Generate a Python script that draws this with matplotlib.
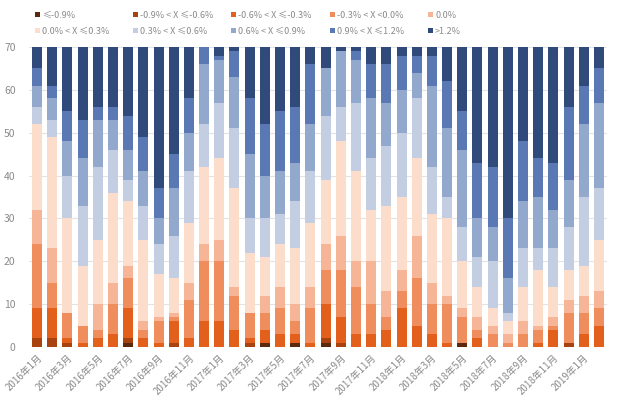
import matplotlib
matplotlib.use("Agg")
import matplotlib.pyplot as plt
from matplotlib.patches import Rectangle
import numpy as np

plt.rcParams['font.family'] = ['Noto Sans CJK SC', 'DejaVu Sans']

months = [f"{y}年{m}月" for y in (2016, 2017, 2018) for m in range(1, 13)] + ["2019年1月", "2019年2月"]

categories = ["≤-0.9%", "-0.9% < X ≤-0.6%", "-0.6% < X ≤-0.3%", "-0.3% < X <0.0%", "0.0%",
              "0.0% < X ≤0.3%", "0.3% < X ≤0.6%", "0.6% < X ≤0.9%", "0.9% < X ≤1.2%", ">1.2%"]

le_m09 = [0,0,0,0,0,0,1,0,0,0,0,0,0,0,0,1,0,1,0,1,0,0,0,0,0,0,0,0,1,0,0,0,0,0,0,0,0,0]
m09_m06 = [2,2,1,0,0,0,1,0,0,1,0,0,0,0,1,0,0,0,0,1,1,0,0,0,0,0,0,0,0,0,0,0,0,0,0,1,0,0]
m06_m03 = [7,7,1,1,2,3,7,2,1,5,2,6,6,4,1,3,3,2,1,8,6,3,3,4,9,5,3,1,0,2,0,0,0,1,4,0,3,5]
m03_0 = [15,6,6,4,2,7,7,2,5,1,9,14,14,8,6,4,6,3,8,8,11,11,7,3,4,11,7,9,6,2,3,1,3,3,1,7,5,4]
zero = [8,8,0,0,6,5,3,2,1,1,4,4,5,2,0,4,5,4,5,6,8,6,10,6,5,10,5,2,2,3,2,2,3,1,2,3,4,4]
p0_03 = [20,26,22,14,15,21,15,19,10,8,14,18,19,23,14,9,10,13,15,15,22,21,12,20,17,18,16,18,11,7,4,3,8,13,7,7,7,12]
p03_06 = [4,4,10,14,17,10,5,8,7,10,12,10,13,14,8,9,7,11,12,15,8,16,12,14,15,14,11,5,8,7,11,2,9,5,9,10,16,12]
p06_09 = [5,5,8,11,11,7,7,8,6,11,9,14,10,12,15,10,10,9,11,11,13,10,14,10,10,6,19,16,18,9,8,8,11,12,9,11,17,20]
p09_12 = [4,3,7,9,3,3,8,8,7,8,8,4,1,6,13,12,14,13,14,0,0,2,8,9,8,4,7,11,9,13,14,14,14,9,11,17,9,8]
gt12 = [5,9,15,17,14,14,16,21,33,25,12,0,2,1,12,18,15,14,4,5,1,1,4,4,2,2,2,8,15,27,28,40,22,26,27,14,9,5]

series = [le_m09, m09_m06, m06_m03, m03_0, zero, p0_03, p03_06, p06_09, p09_12, gt12]
colors = ["#5b2a0e", "#a8420f", "#e25f1c", "#ef8d5c", "#f5b596", "#fcdccb",
          "#c3cee3", "#93a8cd", "#5a78b4", "#304b7b"]

W, H = 620, 399
fig = plt.figure(figsize=(W / 100, H / 100), dpi=100)
ax = fig.add_axes([29.5 / W, (H - 347) / H, 577 / W, 300 / H])

x = np.arange(len(months))
bottom = np.zeros(len(months))
for vals, c in zip(series, colors):
    v = np.array(vals, dtype=float)
    ax.bar(x, v, bottom=bottom, width=0.66, color=c, linewidth=0, zorder=2)
    bottom += v

ax.set_xlim(-0.5, len(months) - 0.5)
ax.set_ylim(0, 70)
ax.set_yticks(range(0, 71, 10))
ax.yaxis.grid(True, color="#e3e3e3", linewidth=0.8, zorder=0)
ax.set_axisbelow(True)
for s in ax.spines.values():
    s.set_visible(False)
ax.tick_params(axis='both', length=0, colors="#8a8a8a", labelsize=7.5)
ax.tick_params(axis='y', pad=10)
ax.set_xticks(x[::2])
ax.set_xticklabels(months[::2], rotation=45, ha='right', va='top',
                   rotation_mode='anchor', fontsize=7, color="#8a8a8a")
ax.tick_params(axis='x', pad=4)

# legend (manual, row-major)
col_x = [35, 133, 231, 330, 428]
row_y = [15, 31]
for i, (lab, c) in enumerate(zip(categories, colors)):
    r, cc = divmod(i, 5)
    px, py = col_x[cc], row_y[r]
    fig.patches.append(Rectangle((px / W, (H - py - 2) / H), 5 / W, 5 / H,
                                 transform=fig.transFigure, color=c, linewidth=0))
    fig.text((px + 7) / W, (H - py) / H, lab, fontsize=6.5, color="#8a8a8a",
             ha='left', va='center')

fig.savefig("out.png", dpi=100)
